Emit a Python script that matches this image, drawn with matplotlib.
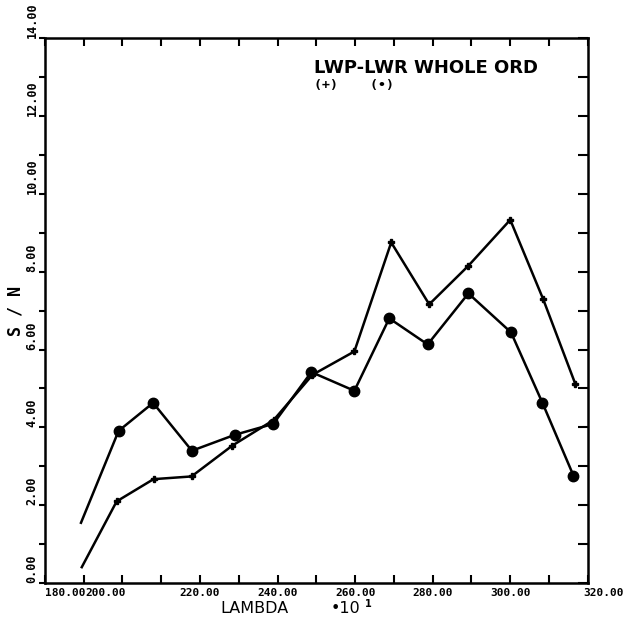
import matplotlib
matplotlib.use("Agg")
from matplotlib import pyplot as plt

# wavelength (x10^1) and S/N
lam_plus = [189.5, 198.5, 208.0, 217.8, 228.3, 239.0, 249.0, 259.8, 269.3, 279.1, 289.2, 300.0, 308.5, 316.8]
sn_plus = [0.41, 2.10, 2.67, 2.74, 3.53, 4.19, 5.35, 5.95, 8.75, 7.16, 8.15, 9.33, 7.29, 5.11]

lam_circ = [189.3, 199.0, 207.9, 217.9, 229.0, 238.9, 248.7, 259.8, 268.8, 278.7, 289.2, 300.2, 308.3, 316.3]
sn_circ = [1.55, 3.91, 4.63, 3.40, 3.81, 4.09, 5.42, 4.94, 6.80, 6.13, 7.44, 6.44, 4.63, 2.76]

xticks = [180, 200, 220, 240, 260, 280, 300, 320]
yticks = [0, 2, 4, 6, 8, 10, 12, 14]

FONT = "DejaVu Sans Mono"

fig = plt.figure(figsize=(6.24, 6.23), dpi=100)
ax = fig.add_axes([0.072, 0.064, 0.870, 0.875])

ax.plot(lam_plus, sn_plus, color="black", lw=1.8, marker="P", ms=5, markevery=slice(1, None))
ax.plot(lam_circ, sn_circ, color="black", lw=1.8, marker="o", ms=7.5, markevery=slice(1, None))

ax.set_xlim(180, 320)
ax.set_ylim(0, 14)
for s in ax.spines.values():
    s.set_linewidth(1.8)

ax.set_xticks(range(180, 321, 10))
ax.set_yticks(range(0, 15, 1))
ax.set_xticklabels([])
ax.set_yticklabels([])
ax.tick_params(axis="x", which="both", direction="in", top=True, length=6, width=1.5)
ax.tick_params(axis="y", which="both", direction="out", right=True, labelright=False,
               length=4, width=1.5)
for t in ax.yaxis.get_major_ticks():
    t.tick2line.set_marker(0)  # right side ticks point inward
    t.tick2line.set_markersize(7)

# x tick labels (the plotter nudged the end ones so they don't collide)
for i, v in enumerate(xticks):
    ha, dx = "center", 0
    if i == 0:
        ha = "left"
    elif i == len(xticks) - 1:
        ha, dx = "left", -1.2
    elif i == 1:
        ha, dx = "right", 1.0
    ax.text(v + dx, -0.12, "%.2f" % v, ha=ha, va="top", fontsize=8,
            fontweight="bold", family=FONT)

# y tick labels, rotated, starting at each tick
for v in yticks:
    ax.text(-0.024, v, "%.2f" % v, transform=ax.get_yaxis_transform(),
            rotation=90, ha="center", va="bottom", fontsize=8.5, fontweight="bold",
            family=FONT, clip_on=False)

fig.text(0.025, 0.50, "S / N", rotation=90, ha="center", va="center", fontsize=12,
         fontweight="bold", family=FONT)
fig.text(0.408, 0.012, "LAMBDA", ha="center", va="bottom", fontsize=11.5, family="DejaVu Sans")
fig.text(0.554, 0.012, "\u202210", ha="center", va="bottom", fontsize=11.5, family="DejaVu Sans")
fig.text(0.590, 0.022, "1", ha="center", va="bottom", fontsize=7, fontweight="bold",
         family="DejaVu Sans")

ax.text(0.495, 0.945, "LWP-LWR WHOLE ORD", transform=ax.transAxes, ha="left", va="center",
        fontsize=13, fontweight="bold", family="DejaVu Sans")
ax.text(0.495, 0.912, "(+)    (\u2022)", transform=ax.transAxes, ha="left", va="center",
        fontsize=9.5, fontweight="bold", family=FONT)

plt.savefig("out.png", dpi=100)
